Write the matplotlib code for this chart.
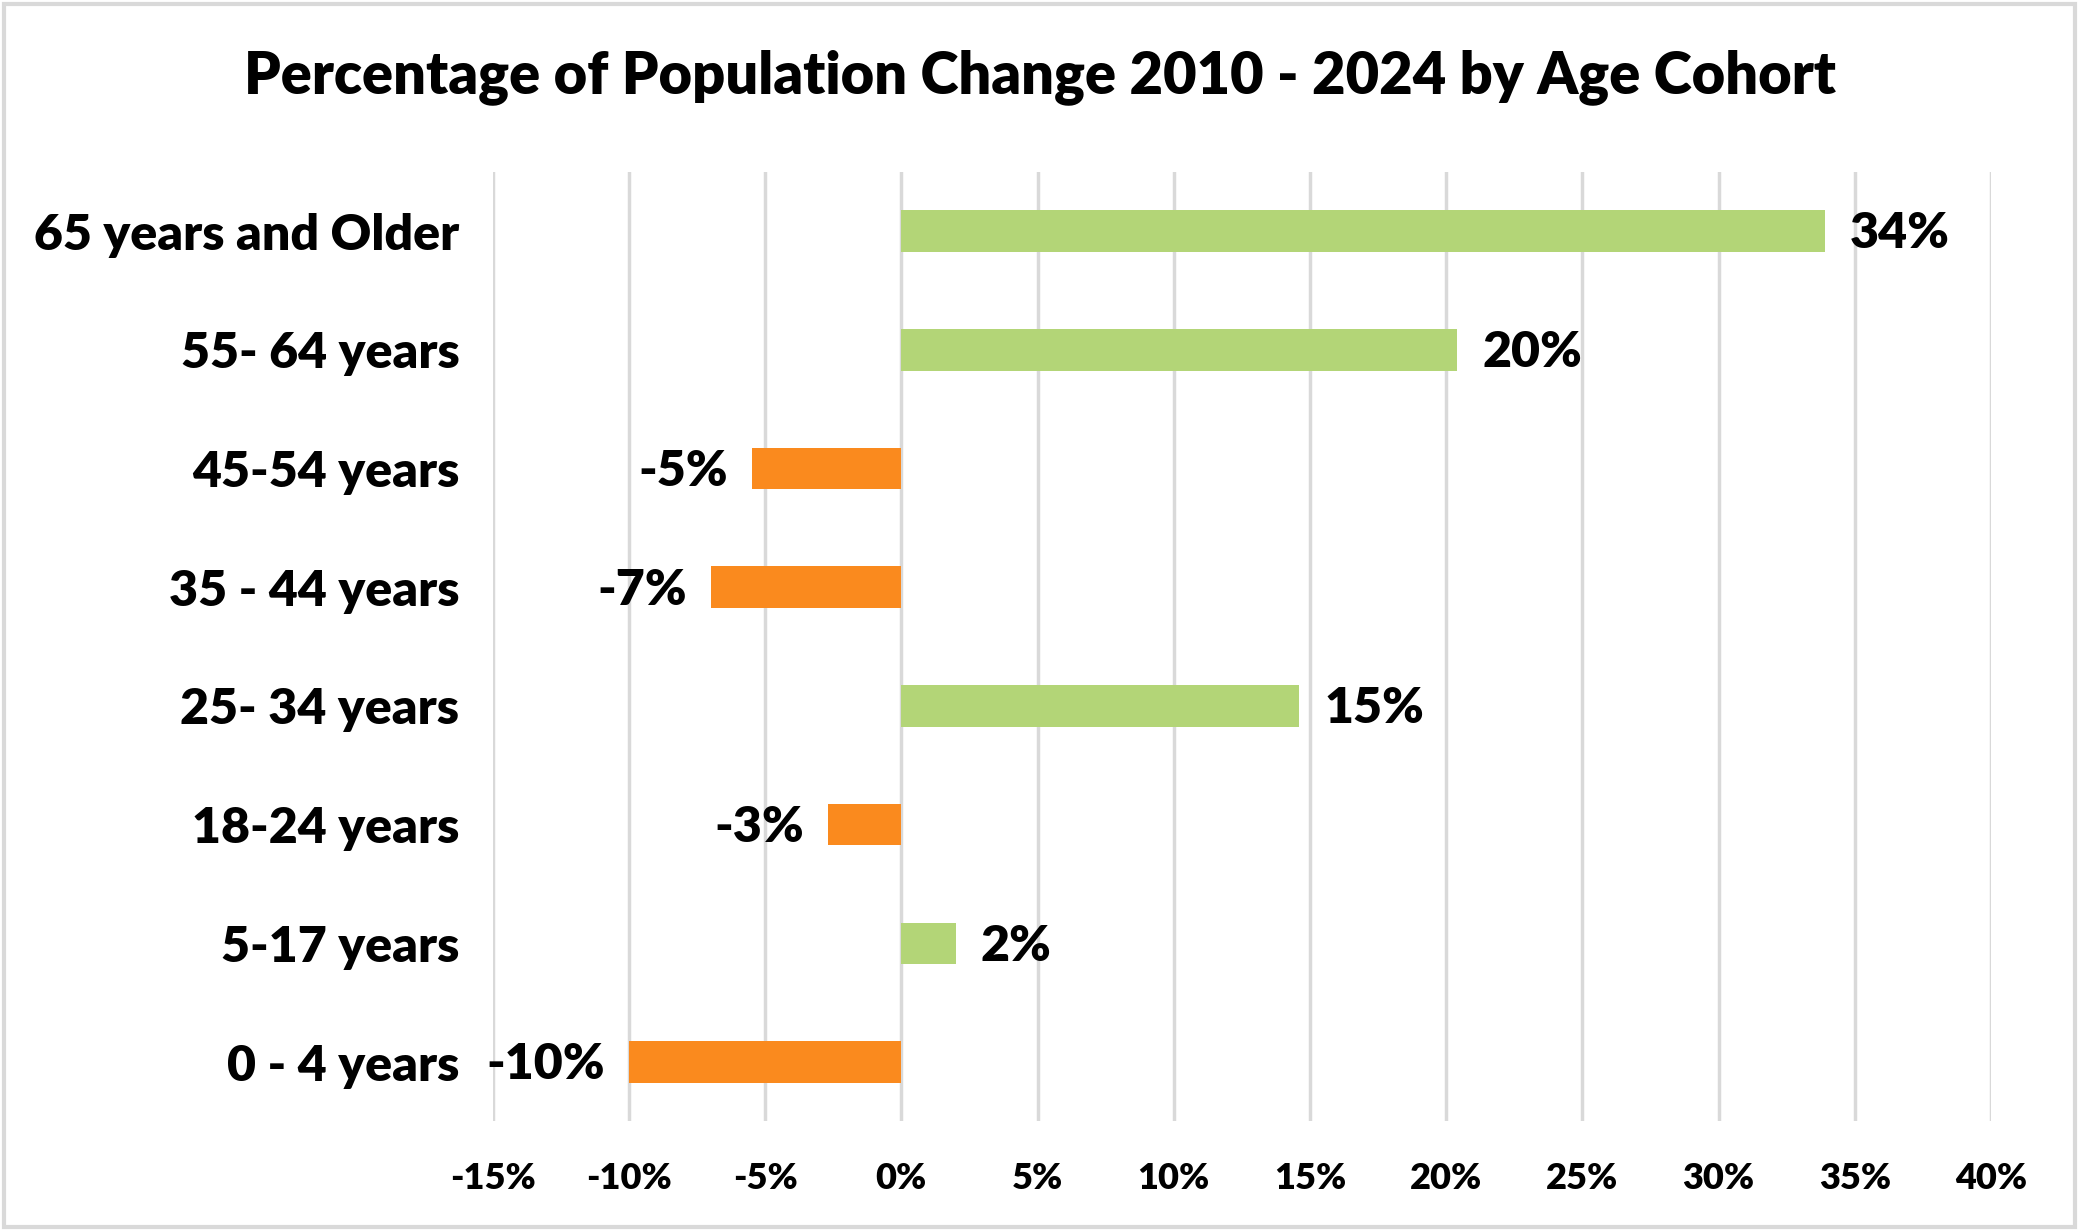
import matplotlib
matplotlib.use("Agg")
import matplotlib.pyplot as plt
from matplotlib.ticker import FuncFormatter, MultipleLocator
from matplotlib.patches import Rectangle

# ─────────────────────────────────────────────
# DATA
# ─────────────────────────────────────────────
AGE_GROUPS = [
    "0 - 4 years",
    "5-17 years",
    "18-24 years",
    "25- 34 years",
    "35 - 44 years",
    "45-54 years",
    "55- 64 years",
    "65 years and Older",
]
PCT_CHANGE = [-10.0, 2.0, -2.7, 14.6, -7.0, -5.5, 20.4, 33.9]
LABELS = ["-10%", "2%", "-3%", "15%", "-7%", "-5%", "20%", "34%"]

TITLE = "Percentage of Population Change 2010 - 2024 by Age Cohort"

GREEN = "#B3D577"
ORANGE = "#FA8A1E"
GRID = "#D9D9D9"
WEIGHT = "heavy"

plt.rcParams["font.family"] = ["Lato", "DejaVu Sans"]
plt.rcParams["font.weight"] = WEIGHT

fig = plt.figure(figsize=(20.79, 12.31), dpi=100)
ax = fig.add_axes([0.237, 0.089, 0.7207, 0.7715])

colors = [GREEN if v >= 0 else ORANGE for v in PCT_CHANGE]
ypos = list(range(len(AGE_GROUPS)))
ax.barh(ypos, PCT_CHANGE, height=0.35, color=colors, zorder=3)

# data labels
for y, v, lab in zip(ypos, PCT_CHANGE, LABELS):
    if v >= 0:
        ax.annotate(lab, (v, y), xytext=(18, -2), textcoords="offset points",
                    ha="left", va="center", fontsize=36, fontweight=WEIGHT)
    else:
        ax.annotate(lab, (v, y), xytext=(-17, -2), textcoords="offset points",
                    ha="right", va="center", fontsize=36, fontweight=WEIGHT)

ax.set_xlim(-15, 40)
ax.set_ylim(-0.5, len(AGE_GROUPS) - 0.5)
ax.xaxis.set_major_locator(MultipleLocator(5))
ax.xaxis.set_major_formatter(FuncFormatter(lambda x, p: f"{x:.0f}%"))
ax.set_yticks(ypos)
ax.set_yticklabels(AGE_GROUPS)

ax.grid(axis="x", color=GRID, linewidth=2.5, zorder=0)
ax.tick_params(axis="x", length=0, labelsize=26, pad=29)
ax.tick_params(axis="y", length=0, labelsize=36, pad=24)
for lbl in ax.get_xticklabels() + ax.get_yticklabels():
    lbl.set_fontweight(WEIGHT)
for s in ax.spines.values():
    s.set_visible(False)

fig.text(0.5, 0.9375, TITLE, ha="center", va="center",
         fontsize=41.6, fontweight=WEIGHT)

# light grey chart border
fig.patches.append(Rectangle((0.002, 0.003), 0.996, 0.994, transform=fig.transFigure,
                             fill=False, edgecolor=GRID, linewidth=3))

fig.savefig("out.png", dpi=100)
